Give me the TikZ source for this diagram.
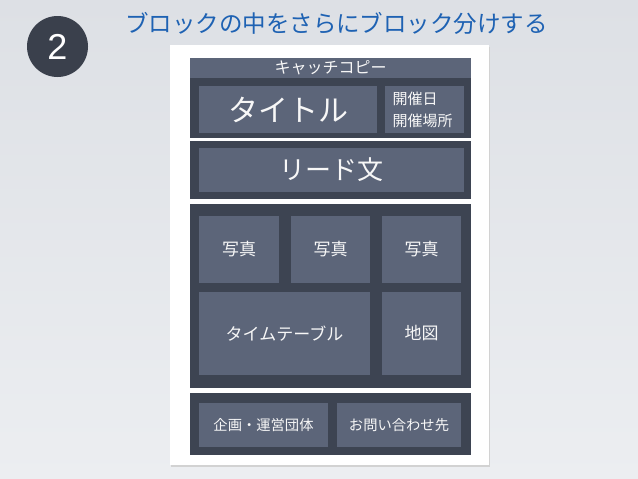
\documentclass[tikz,border=0pt]{standalone}
\usepackage{fontspec}
\usepackage{xcolor}
\usepackage{tikz}
\setmainfont{Noto Sans CJK JP}
\newfontfamily\numfont{Liberation Sans}
\definecolor{bgtop}{HTML}{DDE0E5}
\definecolor{bgbot}{HTML}{ECEEF1}
\definecolor{blockdark}{HTML}{3D4452}
\definecolor{boxslate}{HTML}{5C6579}
\definecolor{headblue}{HTML}{1E62B3}
\definecolor{circdark}{HTML}{3A404C}
\newcommand{\fs}[1]{\fontsize{#1}{#1}\selectfont}

\begin{document}
\begin{tikzpicture}[x=1pt, y=-1pt,
    darkblock/.style={fill=blockdark},
    panel/.style={fill=boxslate, text=white!94!gray, inner sep=0pt}]
        \useasboundingbox (0,0) rectangle (638,479);
        \shade [top color=bgtop, bottom color=bgbot] (0,0) rectangle (638,479);  %background
        \node (num) [circle, fill=circdark, minimum size=61, text=white, inner sep=0pt] at (57.5,46.5) {\numfont\fs{36}2};
        \node (head) [text=headblue, inner sep=0pt] at (336.5,23) {\fs{23.5}ブロックの中をさらにブロック分けする};

        \fill [gray!35]  (171,47) rectangle (490,467);                    %shadow
        \fill [white]    (170,45) rectangle (489,465);                    %paper

        \node (catch) [panel, minimum width=281, minimum height=20] at (330.5,68) {\fs{16}キャッチコピー};

        \fill [darkblock] (190,78)  rectangle (471,138);                  %title block
        \node (title) [panel, minimum width=178, minimum height=47] at (288,109.5) {\fs{30}タイトル};
        \node (date)  [panel, minimum width=79, minimum height=47, align=left, text width=64,
                       font=\fontsize{15}{22}\selectfont] at (424.5,109.5) {開催日\\開催場所};

        \fill [darkblock] (190,141) rectangle (471,199);                  %lead block
        \node (lead) [panel, minimum width=265, minimum height=44] at (331.5,170) {\fs{26}リード文};

        \fill [darkblock] (190,204) rectangle (471,388);                  %photo block
        \node (photoa) [panel, minimum width=80, minimum height=67] at (239,249.5)   {\fs{17}写真};
        \node (photob) [panel, minimum width=79, minimum height=67] at (330.5,249.5) {\fs{17}写真};
        \node (photoc) [panel, minimum width=79, minimum height=67] at (421.5,249.5) {\fs{17}写真};
        \node (timetable) [panel, minimum width=171, minimum height=83] at (284.5,333.5) {\fs{17}タイムテーブル};
        \node (map)    [panel, minimum width=79, minimum height=83] at (421.5,333.5)   {\fs{17}地図};

        \fill [darkblock] (190,393) rectangle (471,455);                  %footer block
        \node (org)     [panel, minimum width=129, minimum height=44] at (263.5,425) {\fs{14.3}企画・運営団体};
        \node (contact) [panel, minimum width=124, minimum height=44] at (399,425)   {\fs{14.3}お問い合わせ先};
\end{tikzpicture}
\end{document}
